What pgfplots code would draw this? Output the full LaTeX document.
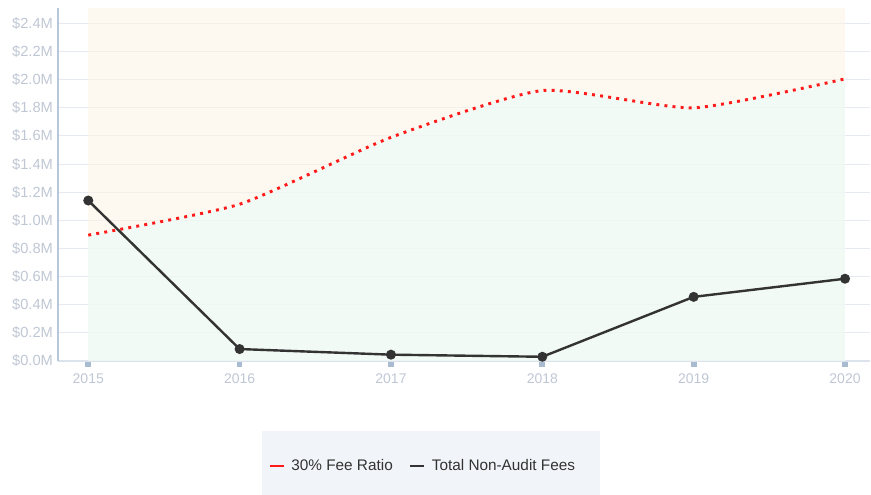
\documentclass[border=0pt]{standalone}
\usepackage{pgfplots}
\pgfplotsset{compat=1.18}
\usepackage{fontspec}
\setmainfont{Liberation Sans}

\definecolor{creamfill}{HTML}{FCF5E8}
\definecolor{mintfill}{HTML}{EBFBF9}
\definecolor{gridcol}{HTML}{E5EAF1}
\definecolor{yaxiscol}{HTML}{B6C7DC}
\definecolor{xaxiscol}{HTML}{DCE3EC}
\definecolor{tickcol}{HTML}{A9BBD1}
\definecolor{labelcol}{HTML}{BFC7D4}
\definecolor{legendbg}{HTML}{F1F4F8}
\definecolor{feeline}{HTML}{FF1A1A}
\definecolor{nonaudit}{HTML}{333333}

\begin{document}
\begin{tikzpicture}
% whole canvas (871 x 495 px at 0.75pt per px)
\useasboundingbox (0,0) rectangle (653.25pt,371.25pt);
% legend panel
\fill[legendbg] (196.5pt,0pt) rectangle (450pt,48pt);

\begin{axis}[
  at={(43.5pt,100.5pt)}, anchor=south west,
  scale only axis,
  width=609pt, height=264.75pt,
  xmin=2014.80, xmax=2020.165,
  ymin=0, ymax=2.51,
  axis lines*=left,
  axis line style={-},
  x axis line style={draw=xaxiscol, line width=0.8pt},
  y axis line style={draw=yaxiscol, line width=1.1pt},
  xtick={2015,2016,2017,2018,2019,2020},
  xticklabels={2015,2016,2017,2018,2019,2020},
  ytick={0,0.2,0.4,0.6,0.8,1.0,1.2,1.4,1.6,1.8,2.0,2.2,2.4},
  yticklabels={\$0.0M,\$0.2M,\$0.4M,\$0.6M,\$0.8M,\$1.0M,\$1.2M,\$1.4M,\$1.6M,\$1.8M,\$2.0M,\$2.2M,\$2.4M},
  ymajorgrids,
  grid style={draw=gridcol, line width=0.75pt},
  tick align=outside,
  major tick length=4.3pt,
  xtick style={draw=tickcol, line width=4.3pt},
  ytick style={draw=none},
  ticklabel style={text=labelcol},
  xticklabel style={font=\fontsize{10.5pt}{12pt}\selectfont, yshift=-1.5pt},
  yticklabel style={font=\fontsize{11pt}{12pt}\selectfont, xshift=4pt},
  legend columns=2,
  legend style={
    at={(axis description cs:0.452,-0.2975)}, anchor=center,
    draw=none, fill=none,
    font=\fontsize{11.5pt}{13pt}\selectfont, text=nonaudit,
    /tikz/every even column/.append style={column sep=7pt},
    inner sep=0pt,
    nodes={inner xsep=5pt},
  },
  legend image code/.code={\draw[#1,solid,line width=1.8pt] (0pt,0pt) -- (10.5pt,0pt);},
]

% shaded regions, translucent so the grid shows through
\addplot[forget plot, draw=none, fill=creamfill, fill opacity=0.6]
  coordinates {(2015,2.51) (2020,2.51)} \closedcycle;
\addplot[forget plot, draw=none, fill=mintfill, fill opacity=0.6, smooth, tension=0.35]
  coordinates {(2015,0.895) (2016,1.115) (2017,1.59) (2018,1.923) (2019,1.80) (2020,2.006)} \closedcycle;

% 30% fee ratio
\addplot[color=feeline, line width=2.2pt, line cap=butt,
  dash pattern=on 2.2pt off 3.9pt, smooth, tension=0.35]
  coordinates {(2015,0.895) (2016,1.115) (2017,1.59) (2018,1.923) (2019,1.80) (2020,2.006)};
\addlegendentry{30\% Fee Ratio}

% total non-audit fees
\addplot[color=nonaudit, line width=1.8pt, mark=*, mark size=2.8pt,
  mark options={solid, fill=nonaudit}]
  coordinates {(2015,1.141) (2016,0.085) (2017,0.045) (2018,0.030) (2019,0.456) (2020,0.585)};
\addlegendentry{Total Non-Audit Fees}

\end{axis}
\end{tikzpicture}
\end{document}
